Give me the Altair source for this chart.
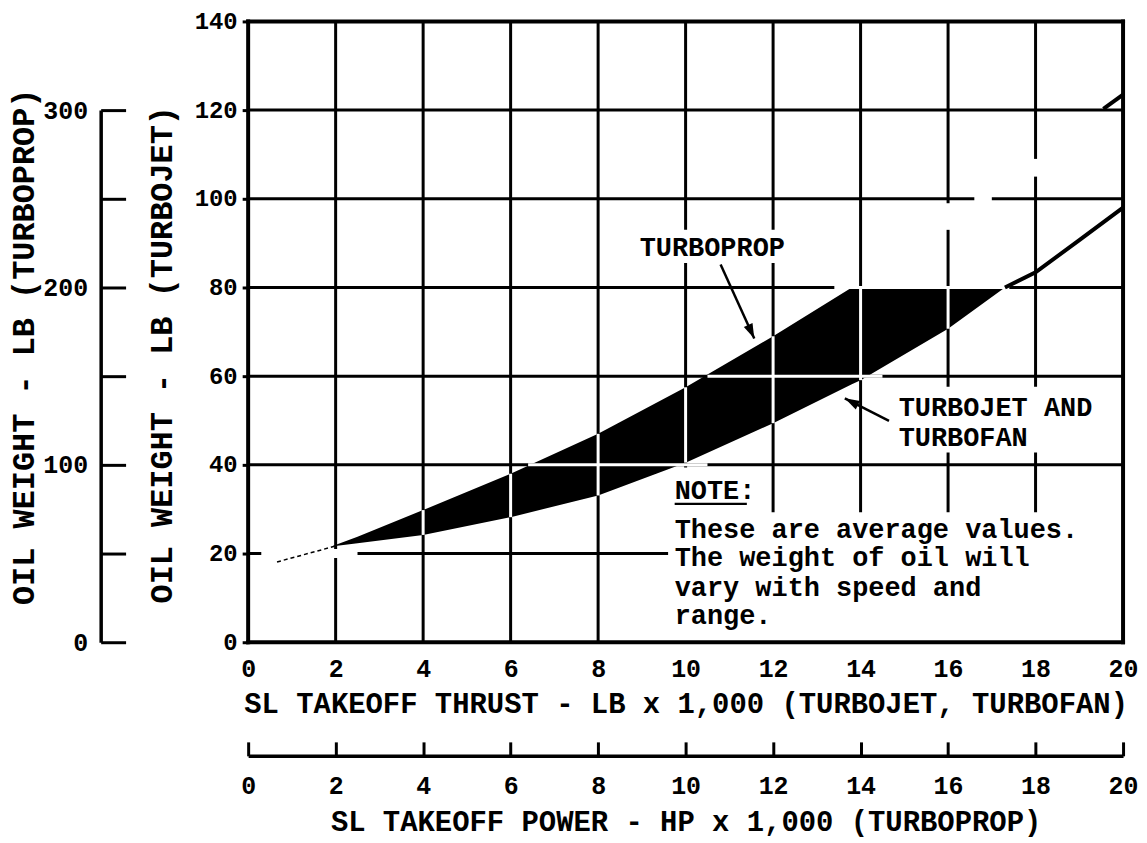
import altair as alt
import pandas as pd

# ---------------- data ----------------
X_TICKS = [0, 2, 4, 6, 8, 10, 12, 14, 16, 18, 20]
Y_TICKS = [0, 20, 40, 60, 80, 100, 120, 140]
PROP_TICKS = [0, 50, 100, 150, 200, 250, 300]   # turboprop oil weight axis (lb)

# shaded band between the turbojet (lower) and turboprop (upper) curves
FILL_X = [1.9, 2.5, 4, 6, 8, 10, 12, 13.8, 14, 16, 17.3]
FILL_LOWER = [21.6, 22.3, 24.2, 28.2, 33.1, 40.5, 49.4, 58.2, 59.1, 70.7, 80.0]
FILL_UPPER = [21.6, 23.8, 29.8, 38.0, 47.0, 57.5, 69.0, 80.0, 80.0, 80.0, 80.0]

# turbojet curve outside the band
JET_DASH_X = [0.66, 2.0]
JET_DASH_Y = [18.1, 21.7]
JET_X = [17.3, 18, 19, 20]
JET_Y = [80.0, 83.4, 90.7, 98.0]
# turboprop curve stub at upper right
PROP_X = [19.55, 20]
PROP_Y = [120.3, 123.5]

# erased parts of the grid (white patches in the scan)
MASK_X0 = [9.6, 9.6, 14.8, 8.9, 15.8, 17.8, 16.6, 0.3]
MASK_X1 = [20, 11.7, 19.8, 12.6, 16.2, 18.2, 17.0, 2.5]
MASK_Y0 = [0, 29, 42.8, 85.5, 93, 105, 99, 19]
MASK_Y1 = [29.3, 39.4, 57.6, 93, 99, 109, 101, 21]

# white grid segments crossing the band
WH_Y = [40, 60, 80]
WH_X0 = [6.4, 10.5, 13.4]
WH_X1 = [10.5, 14.5, 17.4]

LABELS = ["TURBOPROP", "TURBOJET AND", "TURBOFAN"]
LABEL_X = [8.95, 14.87, 14.87]
LABEL_Y = [89.0, 52.8, 46.1]

NOTE_LINES = ["NOTE:", "These are average values.", "The weight of oil will",
              "vary with speed and", "range."]
NOTE_X = [9.75, 9.75, 9.75, 9.75, 9.75]
NOTE_Y = [34.0, 25.3, 19.0, 12.3, 5.8]
NOTE_UL_X = [9.75, 11.4]
NOTE_UL_Y = 31.2

ARROW_X0 = [10.8, 14.65]
ARROW_Y0 = [85.2, 49.9]
ARROW_X1 = [11.57, 13.64]
ARROW_Y1 = [68.5, 55.0]
ARROW_ANG = [155.6, 297.6]

X_TITLE = "SL TAKEOFF THRUST - LB x 1,000 (TURBOJET, TURBOFAN)"
X2_TITLE = "SL TAKEOFF POWER - HP x 1,000 (TURBOPROP)"
Y_TITLE = "OIL WEIGHT - LB (TURBOJET)"
Y2_TITLE = "OIL WEIGHT - LB (TURBOPROP)"

# ---------------- layout ----------------
W, H = 878, 623
FONT = "Liberation Mono"

XS = alt.Scale(domain=[X_TICKS[0], X_TICKS[-1]], nice=False, zero=False)
YS = alt.Scale(domain=[Y_TICKS[0], Y_TICKS[-1]], nice=False, zero=False)

X_AXIS = alt.Axis(values=X_TICKS, format="d", grid=False, domain=False, ticks=False,
                  labelFlush=False, labelPadding=14, labelBaseline="top",
                  title=X_TITLE, titleY=62, titleBaseline="middle")
Y_AXIS = alt.Axis(values=Y_TICKS, format="d", grid=False, domain=False, ticks=True,
                  tickSize=6, tickWidth=3, labelPadding=5, labelBaseline="middle",
                  labelFlush=False, labelFontSize=24,
                  title=Y_TITLE, titleAngle=270, titleX=-87, titleY=334, titleFontSize=32,
                  titleBaseline="middle", titleAlign="center")


def X(f):
    return alt.X(f, type="quantitative", scale=XS, axis=X_AXIS)


def Y(f):
    return alt.Y(f, type="quantitative", scale=YS, axis=Y_AXIS)


xmin, xmax = X_TICKS[0], X_TICKS[-1]
ymin, ymax = Y_TICKS[0], Y_TICKS[-1]

grid_v = alt.Chart(pd.DataFrame({"gx": X_TICKS[1:-1], "y0": ymin, "y1": ymax})).mark_rule(
    color="black", strokeWidth=3).encode(x=X("gx"), y=Y("y0"), y2="y1")
grid_h = alt.Chart(pd.DataFrame({"gy": Y_TICKS[1:-1], "x0": xmin, "x1": xmax})).mark_rule(
    color="black", strokeWidth=3).encode(y=Y("gy"), x=X("x0"), x2="x1")

masks = alt.Chart(pd.DataFrame({"x0": MASK_X0, "x1": MASK_X1, "y0": MASK_Y0, "y1": MASK_Y1})).mark_rect(
    color="white").encode(x=X("x0"), x2="x1", y=Y("y0"), y2="y1")

border = alt.Chart(pd.DataFrame({
    "x0": [xmin, xmax, xmin, xmin], "x1": [xmin, xmax, xmax, xmax],
    "y0": [ymin, ymin, ymin, ymax], "y1": [ymax, ymax, ymin, ymax]})).mark_rule(
    color="black", strokeWidth=4, strokeCap="square").encode(x=X("x0"), x2="x1", y=Y("y0"), y2="y1")

fill_df = pd.DataFrame({"x": FILL_X, "lo": FILL_LOWER, "hi": FILL_UPPER})
band = alt.Chart(fill_df).mark_area(color="black", opacity=1).encode(x=X("x"), y=Y("lo"), y2="hi")
band_grid_v = alt.Chart(fill_df).transform_filter(
    "datum.x >= 4 && datum.x % 2 == 0").mark_rule(color="white", strokeWidth=3).encode(
    x=X("x"), y=Y("lo"), y2="hi")
band_grid_h = alt.Chart(pd.DataFrame({"y": WH_Y, "x0": WH_X0, "x1": WH_X1})).mark_rule(
    color="white", strokeWidth=3).encode(y=Y("y"), x=X("x0"), x2="x1")

jet_dash = alt.Chart(pd.DataFrame({"x": JET_DASH_X, "y": JET_DASH_Y})).mark_line(
    color="black", strokeWidth=1.5, strokeDash=[4, 3]).encode(x=X("x"), y=Y("y"))
jet = alt.Chart(pd.DataFrame({"x": JET_X, "y": JET_Y})).mark_line(
    color="black", strokeWidth=4).encode(x=X("x"), y=Y("y"))
prop = alt.Chart(pd.DataFrame({"x": PROP_X, "y": PROP_Y})).mark_line(
    color="black", strokeWidth=4).encode(x=X("x"), y=Y("y"))

labels = alt.Chart(pd.DataFrame({"t": LABELS, "x": LABEL_X, "y": LABEL_Y})).mark_text(
    font=FONT, fontSize=27, fontWeight="bold", align="left", baseline="middle", color="black").encode(
    x=X("x"), y=Y("y"), text="t:N")
note = alt.Chart(pd.DataFrame({"t": NOTE_LINES, "x": NOTE_X, "y": NOTE_Y})).mark_text(
    font=FONT, fontSize=27, fontWeight="bold", align="left", baseline="middle", color="black").encode(
    x=X("x"), y=Y("y"), text="t:N")
note_ul = alt.Chart(pd.DataFrame({"x0": [NOTE_UL_X[0]], "x1": [NOTE_UL_X[1]], "y": [NOTE_UL_Y]})).mark_rule(
    color="black", strokeWidth=2.5).encode(x=X("x0"), x2="x1", y=Y("y"))

arrow_df = pd.DataFrame({"x0": ARROW_X0, "y0": ARROW_Y0, "x1": ARROW_X1, "y1": ARROW_Y1, "a": ARROW_ANG})
arrow_lines = alt.Chart(arrow_df).mark_rule(color="black", strokeWidth=2.5).encode(
    x=X("x0"), y=Y("y0"), x2="x1", y2="y1")
arrow_heads = alt.Chart(arrow_df).mark_point(
    shape="M0,0L-0.45,1.4L0.45,1.4Z", filled=True, color="black", size=450, opacity=1).encode(
    x=X("x1"), y=Y("y1"), angle=alt.Angle("a:Q", scale=None))

main = alt.layer(grid_v, grid_h, masks, band, band_grid_v, band_grid_h, border,
                 jet_dash, jet, prop, arrow_lines, arrow_heads, labels, note, note_ul)

# secondary (turboprop) axes, drawn through their own scales
SEC_X_AXIS = alt.Axis(orient="top", offset=-737, values=X_TICKS, format="d", grid=False,
                      domain=True, domainWidth=3.5, domainColor="black",
                      ticks=True, tickSize=14, tickWidth=3, tickColor="black",
                      labelPadding=-32, labelBaseline="top", labelFlush=False,
                      title=X2_TITLE, titleY=66, titleBaseline="middle")
SEC_Y_AXIS = alt.Axis(orient="right", offset=-(W + 148), values=PROP_TICKS, format="d", grid=False,
                      labelExpr="datum.value % 100 === 0 ? datum.label : ''",
                      domain=True, domainWidth=3.5, domainColor="black",
                      ticks=True, tickSize=25, tickWidth=3, tickColor="black",
                      labelPadding=-38, labelAlign="right", labelBaseline="middle", labelFlush=False,
                      title=Y2_TITLE, titleAngle=270, titleX=-77, titleY=326, titleFontSize=32,
                      titleBaseline="middle", titleAlign="center")

sec = alt.Chart(pd.DataFrame({"sx": [X_TICKS[0], X_TICKS[-1]], "sy": [PROP_TICKS[0], PROP_TICKS[-1]]})).mark_point(
    opacity=0).encode(
    x=alt.X("sx:Q", scale=alt.Scale(domain=[X_TICKS[0], X_TICKS[-1]], nice=False, zero=False), axis=SEC_X_AXIS),
    y=alt.Y("sy:Q", scale=alt.Scale(domain=[PROP_TICKS[0], PROP_TICKS[-1]], nice=False, zero=False,
                                    range=[H, H * (1 - 120 / 140)]), axis=SEC_Y_AXIS))

chart = alt.layer(main, sec).resolve_scale(x="independent", y="independent").properties(
    width=W, height=H,
    autosize=alt.AutoSizeParams(type="none"),
    padding={"left": 241, "top": 12, "right": 16, "bottom": 198},
).configure_view(stroke=None).configure_axis(
    labelFont=FONT, titleFont=FONT, labelFontWeight="bold", titleFontWeight="bold",
    labelColor="black", titleColor="black", tickColor="black", domainColor="black",
    labelFontSize=25, titleFontSize=29,
)

chart.save("out.html", embed_options={"renderer": "svg", "actions": False})
